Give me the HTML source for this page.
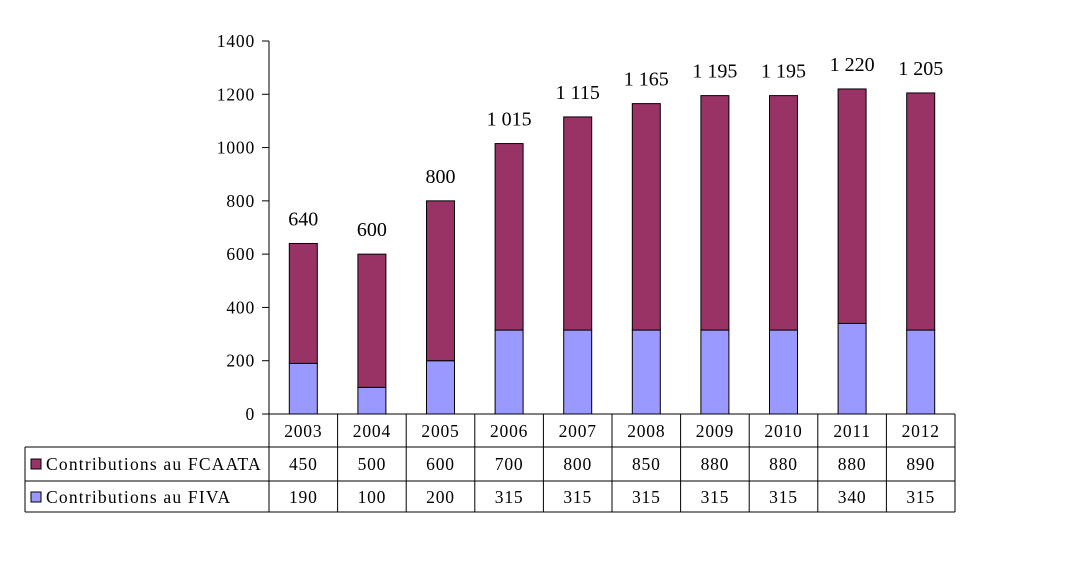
<!DOCTYPE html>
<html><head><meta charset="utf-8"><style>
body{margin:0;background:#fff}
text{font-family:"Liberation Serif",serif;fill:#000}
.s{font-size:17.5px;letter-spacing:0.8px}
</style></head><body>
<svg width="1085" height="580" xmlns="http://www.w3.org/2000/svg">
<g id="g"></g>
</svg>
<script>
const years=["2003","2004","2005","2006","2007","2008","2009","2010","2011","2012"];
const fcaata=[450,500,600,700,800,850,880,880,880,890];
const fiva=[190,100,200,315,315,315,315,315,340,315];
const totalLabels=["640","600","800","1 015","1 115","1 165","1 195","1 195","1 220","1 205"];
const yTicks=[0,200,400,600,800,1000,1200,1400];
const NS="http://www.w3.org/2000/svg",g=document.getElementById('g');
const x0=269,colW=68.6,y0=414,yTop=41,yMax=1400;
const y=v=>y0-(v/yMax)*(y0-yTop);
const xc=i=>x0+colW*(i+0.5);
function el(t,a,txt){const e=document.createElementNS(NS,t);for(const k in a)e.setAttribute(k,a[k]);if(txt!=null)e.textContent=txt;g.appendChild(e);return e;}
yTicks.forEach(v=>{
 const l=el('line',{x1:262,x2:x0,y1:y(v),y2:y(v),stroke:'#000'});
 
 
 const t=el('text',{x:255,y:y(v)+6,'text-anchor':'end','class':'s'},v);
 
 
});
years.forEach((yr,i)=>{
 const bx=xc(i)-14,bw=28;
 const a=el('rect',{x:bx,y:y(fiva[i]),width:bw,height:y0-y(fiva[i]),fill:'#9999FF',stroke:'#000','stroke-width':1});
 
 
 const tot=fiva[i]+fcaata[i];
 const b=el('rect',{x:bx,y:y(tot),width:bw,height:y(fiva[i])-y(tot),fill:'#993366',stroke:'#000','stroke-width':1});
 
 
 const t=el('text',{x:xc(i),y:y(tot)-18,'text-anchor':'middle','font-size':20},totalLabels[i]);
 
 
 const c=el('text',{x:xc(i),y:437,'text-anchor':'middle','class':'s'},yr);
 
 
 const d=el('text',{x:xc(i),y:470,'text-anchor':'middle','class':'s'},fcaata[i]);
 
 
 const e=el('text',{x:xc(i),y:503,'text-anchor':'middle','class':'s'},fiva[i]);
 
 
});
const xEnd=x0+colW*10;
[[x0,y0,x0,yTop],[x0,y0,xEnd,y0],[25,447,xEnd,447],[25,481,xEnd,481],[25,512,xEnd,512],[25,447,25,512]].forEach(p=>{
 const l=el('line',{x1:p[0],y1:p[1],x2:p[2],y2:p[3],stroke:'#000'});
 
 
});
for(let i=0;i<=10;i++){
 const l=el('line',{x1:x0+colW*i,y1:y0,x2:x0+colW*i,y2:512,stroke:'#000'});
 
 
}
[[464,'#993366','Contributions au FCAATA','legend-fcaata'],[497,'#9999FF','Contributions au FIVA','legend-fiva']].forEach(r=>{
 const s=el('rect',{x:31,y:r[0]-5,width:10,height:10,fill:r[1],stroke:'#000'});
 
 
 const t=el('text',{x:46,y:r[0]+6,'font-size':17.5,'letter-spacing':1.2},r[2]);
 
 
});
</script>
</body></html>
